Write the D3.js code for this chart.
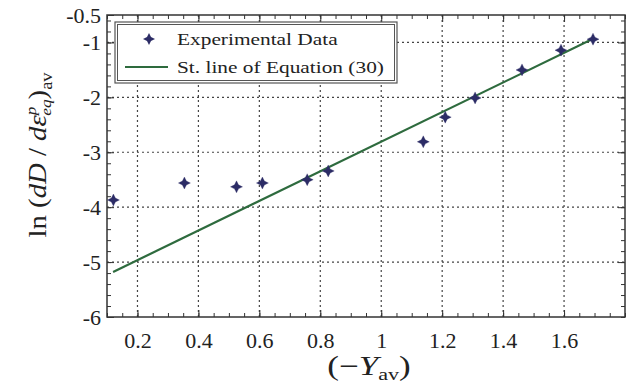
<!DOCTYPE html>
<html><head><meta charset="utf-8">
<script src="https://cdn.jsdelivr.net/npm/d3@7/dist/d3.min.js"></script>
<style>body{margin:0;background:#fff} text{font-family:"Liberation Serif","Times New Roman","DejaVu Serif","Noto Serif",serif}</style>
</head><body>
<svg id="c" width="631" height="390"></svg>
<script>
const xData = [0.121, 0.354, 0.525, 0.61, 0.757, 0.826, 1.138, 1.21, 1.308, 1.462, 1.59, 1.695];
const yData = [-3.87, -3.56, -3.63, -3.56, -3.50, -3.34, -2.81, -2.36, -2.01, -1.50, -1.14, -0.94];
const lineX = [0.12, 1.70];
const lineY = [-5.18, -0.92];
const xTicks = [0.2, 0.4, 0.6, 0.8, 1, 1.2, 1.4, 1.6];
const yTicks = [-0.5, -1, -2, -3, -4, -5, -6];
const yGrid = [-1, -2, -3, -4, -5];
const legendLabels = ["Experimental Data", "St. line of Equation (30)"];

const svg = d3.select("#c");
const L = 107, R = 625, T = 15, B = 317;
const x = d3.scaleLinear().domain([0.1, 1.8]).range([L, R]);
const y = d3.scaleLinear().domain([-6, -0.5]).range([B, T]);
const serif = '"Liberation Serif","Times New Roman","DejaVu Serif","Noto Serif",serif';
const ink = "#333";
function stretch(sel, k) {
  sel.each(function() {
    const w = this.getComputedTextLength();
    d3.select(this).attr("textLength", w * k).attr("lengthAdjust", "spacingAndGlyphs");
  });
}

// grid
const g = svg.append("g");
g.selectAll(".gx").data(xTicks).enter().append("line")
  .attr("x1", d => x(d)).attr("x2", d => x(d)).attr("y1", T).attr("y2", B)
  .attr("stroke", "#444").attr("stroke-width", 1.2).attr("stroke-dasharray", "2,3");
g.selectAll(".gy").data(yGrid).enter().append("line")
  .attr("y1", d => y(d)).attr("y2", d => y(d)).attr("x1", L).attr("x2", R)
  .attr("stroke", "#444").attr("stroke-width", 1.2).attr("stroke-dasharray", "2,3");

// axes with inward minor ticks
const minorX = d3.range(0.1, 1.8001, 0.05);
const minorY = d3.range(-6, -0.4999, 0.2);
function minor(gen, tr) {
  svg.append("g").attr("transform", tr)
    .call(gen.tickSize(-4).tickFormat(""))
    .call(a => a.select(".domain").remove()).selectAll("line").attr("stroke", ink);
}
minor(d3.axisBottom(x).tickValues(minorX), `translate(0,${B})`);
minor(d3.axisTop(x).tickValues(minorX), `translate(0,${T})`);
minor(d3.axisLeft(y).tickValues(minorY), `translate(${L},0)`);
minor(d3.axisRight(y).tickValues(minorY), `translate(${R},0)`);

// major ticks + labels
const xa = svg.append("g").attr("transform", `translate(0,${B})`)
  .call(d3.axisBottom(x).tickValues(xTicks).tickSize(-7).tickPadding(15).tickFormat(d3.format("")));
xa.select(".domain").remove();
xa.selectAll("line").attr("stroke", ink);
xa.selectAll("text").style("font-family", serif).attr("font-size", 22).attr("fill", "#222");
const ya = svg.append("g").attr("transform", `translate(${L},0)`)
  .call(d3.axisLeft(y).tickValues(yTicks).tickSize(-7).tickPadding(6).tickFormat(d => String(d)));
ya.select(".domain").remove();
ya.selectAll("line").attr("stroke", ink);
ya.selectAll("text").style("font-family", serif).attr("font-size", 22).attr("fill", "#222");
svg.append("g").attr("transform", `translate(${R},0)`)
  .call(d3.axisRight(y).tickValues(yGrid).tickSize(-7).tickFormat(""))
  .call(a => a.select(".domain").remove()).selectAll("line").attr("stroke", ink);
svg.append("g").attr("transform", `translate(0,${T})`)
  .call(d3.axisTop(x).tickValues(xTicks).tickSize(-7).tickFormat(""))
  .call(a => a.select(".domain").remove()).selectAll("line").attr("stroke", ink);

// frame
svg.append("rect").attr("x", L).attr("y", T).attr("width", R - L).attr("height", B - T)
  .attr("fill", "none").attr("stroke", ink).attr("stroke-width", 1.5);

// fitted line
const lineData = lineX.map((d, i) => [d, lineY[i]]);
svg.append("path").datum(lineData)
  .attr("d", d3.line().x(d => x(d[0])).y(d => y(d[1])))
  .attr("stroke", "#2e6b3e").attr("stroke-width", 2.2).attr("fill", "none");

// points
const star = "M0,-6 L2,-2 L6,0 L2,2 L0,6 L-2,2 L-6,0 L-2,-2 Z";
svg.selectAll(".pt").data(xData.map((d, i) => [d, yData[i]])).enter().append("path")
  .attr("d", star).attr("transform", d => `translate(${x(d[0])},${y(d[1])})`)
  .attr("fill", "#2c2c66").attr("stroke", "#2c2c66").attr("stroke-width", 0.6).attr("stroke-opacity", 0.5);

// legend
const lg = svg.append("g");
lg.append("rect").attr("x", 115).attr("y", 22).attr("width", 282).attr("height", 61)
  .attr("fill", "#fff").attr("stroke", "#555").attr("stroke-width", 1.2);
lg.append("rect").attr("x", 117.5).attr("y", 24.5).attr("width", 277).attr("height", 56)
  .attr("fill", "none").attr("stroke", "#555").attr("stroke-width", 1);
lg.append("path").attr("d", star).attr("transform", "translate(149,39)").attr("fill", "#2c2c66");
lg.append("line").attr("x1", 125).attr("x2", 168).attr("y1", 67).attr("y2", 67)
  .attr("stroke", "#2e6b3e").attr("stroke-width", 2.2);
lg.selectAll(".lt").data(legendLabels).enter().append("text")
  .attr("x", 177).attr("y", (d, i) => 45 + i * 28)
  .style("font-family", serif).attr("font-size", 17.5).attr("fill", "#222").text(d => d).call(stretch, 1.22);

// axis titles
const xt = svg.append("g").attr("transform", `translate(369,375) scale(1.3,1)`)
  .append("text").attr("text-anchor", "middle")
  .style("font-family", serif).attr("font-size", 27).attr("fill", "#222");
xt.append("tspan").text("(−");
xt.append("tspan").attr("font-style", "italic").text("Y");
xt.append("tspan").attr("font-size", 17).attr("dy", 5).text("av");
xt.append("tspan").attr("dy", -5).text(")");

const yt = svg.append("g").attr("transform", `translate(46,155) rotate(-90) scale(1.15,1)`)
  .append("text").attr("text-anchor", "middle")
  .style("font-family", serif).attr("font-size", 25).attr("fill", "#222");
yt.append("tspan").text("ln (");
yt.append("tspan").attr("font-style", "italic").text("dD");
yt.append("tspan").text(" / ");
yt.append("tspan").attr("font-style", "italic").text("dε");
yt.append("tspan").attr("font-style", "italic").attr("font-size", 15).attr("dy", -10).text("p");
yt.append("tspan").attr("font-style", "italic").attr("font-size", 15).attr("dy", 15).attr("dx", -8).text("eq");
yt.append("tspan").attr("dy", -5).text(")");
yt.append("tspan").attr("font-size", 16).attr("dy", 6).text("av");
</script>
</body></html>
